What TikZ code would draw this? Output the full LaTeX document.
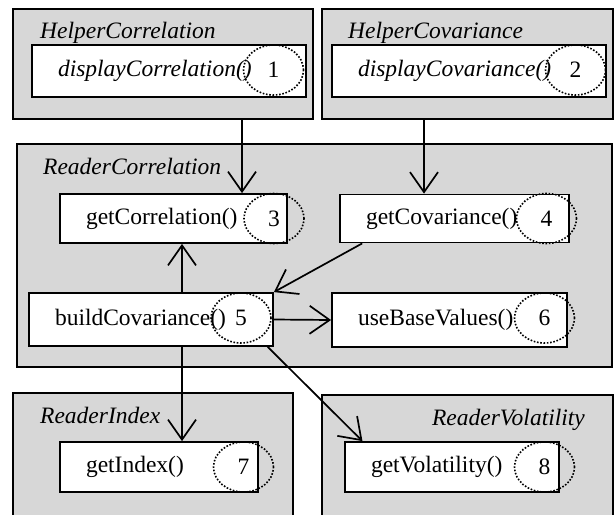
\documentclass[tikz,border=0pt]{standalone}
\usepackage{fontspec}
\setmainfont{Liberation Serif}
\usetikzlibrary{arrows.meta,shapes.geometric,calc}
\definecolor{cinzaFundo}{RGB}{215,215,215}

\begin{document}
\begin{tikzpicture}[x=1pt, y=-1pt,
        font=\fontsize{23.5}{27}\selectfont,
        classe/.style={draw, fill=cinzaFundo, line width=1.3pt, inner sep=0pt},
        titulo/.style={font=\fontsize{23.5}{27}\selectfont\itshape, inner sep=0pt},
        metodo/.style={draw, fill=white, line width=1.8pt, inner xsep=26pt, inner ysep=0pt, align=left},
        marca/.style={ellipse, line width=1.6pt, draw, dash pattern=on 1.6pt off 1.7pt, minimum width=60pt, minimum height=50pt, inner sep=0pt},
        seta/.style={line width=1.7pt, -{Straight Barb[length=20pt, width=28pt]}}]
        \useasboundingbox (0,0) rectangle (615,514);

        %caixas externas
        \node[classe, minimum width=300pt, minimum height=110pt] (helpCorr) at (163,64) {};
        \node[classe, minimum width=291pt, minimum height=110pt] (helpCov) at (467.5,64) {};
        \node[classe, minimum width=595pt, minimum height=223pt] (readCorr) at (314.5,255.5) {};
        \node[classe, minimum width=280pt, minimum height=140pt] (readIdx) at (153,463) {};
        \node[classe, minimum width=291pt, minimum height=140pt] (readVol) at (467.5,465) {};

        \node[titulo, anchor=west] (tHelpCorr) at (40,33) {HelperCorrelation};
        \node[titulo, anchor=west] (tHelpCov) at (348,33) {HelperCovariance};
        \node[titulo, anchor=west] (tReadCorr) at (43,166) {ReaderCorrelation};
        \node[titulo, anchor=west] (tReadIdx) at (40,415) {ReaderIndex};
        \node[titulo, anchor=east] (tReadVol) at (585,420) {ReaderVolatility};

        %metodos
        \node[metodo, text width=222pt, minimum height=52pt] (dispCorr) at (169,71) {\itshape displayCorrelation()};
        \node[metodo, text width=222pt, minimum height=52pt] (dispCov) at (469,71) {\itshape displayCovariance()};
        \node[metodo, text width=175pt, minimum height=49pt] (getCorr) at (173.5,218.5) {getCorrelation()};
        \node[metodo, text width=177pt, minimum height=48pt] (getCov) at (454.5,218.5) {getCovariance()};
        \node[metodo, text width=192pt, minimum height=53pt] (buildCov) at (151,319.5) {buildCovariance()};
        \node[metodo, text width=183pt, minimum height=54pt] (useBase) at (449.5,320) {useBaseValues()};
        \node[metodo, text width=146pt, minimum height=50pt] (getIdx) at (159,467) {getIndex()};
        \node[metodo, text width=162pt, minimum height=50pt] (getVol) at (452,467) {getVolatility()};

        %numeros
        \node[marca] (n1) at (273.5,70) {1};
        \node[marca] (n2) at (575.5,70) {2};
        \node[marca] (n3) at (274,218.5) {3};
        \node[marca] (n4) at (546.5,218.5) {4};
        \node[marca] (n5) at (241,318) {5};
        \node[marca] (n6) at (544.5,318) {6};
        \node[marca] (n7) at (243.5,467) {7};
        \node[marca] (n8) at (544.5,467) {8};

        %chamadas
        \coordinate (c1) at (242,0);
        \coordinate (c2) at (424,0);
        \coordinate (c3) at (182,0);
        \draw[seta] (helpCorr.south -| c1) -- (getCorr.north -| c1);
        \draw[seta] (helpCov.south -| c2) -- (getCov.north -| c2);
        \draw[seta] (buildCov.north -| c3) -- (getCorr.south -| c3);
        \draw[seta] ($(getCov.south west)!0.1!(getCov.south east)$) -- (buildCov.north east);
        \draw[seta] (buildCov.east) -- (useBase.west);
        \draw[seta] (buildCov.south -| c3) -- (getIdx.north -| c3);
        \draw[seta] ($(buildCov.south east)!0.025!(buildCov.south west)$) -- ($(getVol.north west)!0.085!(getVol.north east)$);

    \end{tikzpicture}
\end{document}
